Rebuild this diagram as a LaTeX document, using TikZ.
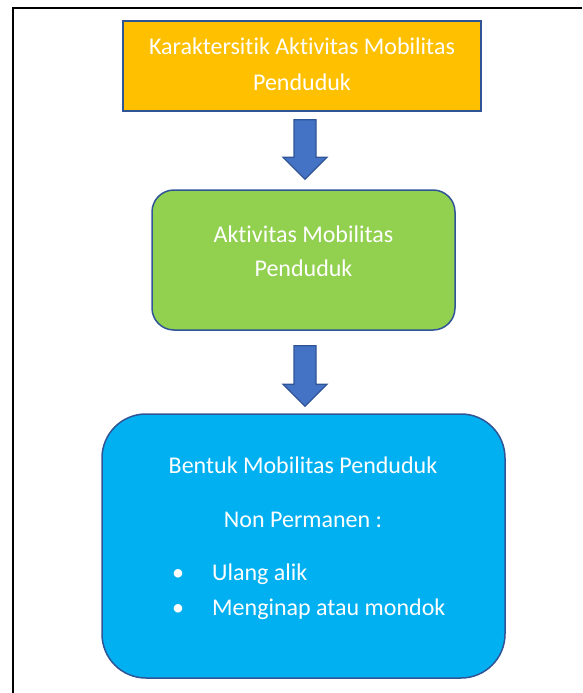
\documentclass[tikz,border=0pt]{standalone}
\usepackage{fontspec}
\setmainfont{Carlito}[Ligatures=NoCommon]
\usetikzlibrary{calc}
\definecolor{orangecolour}{HTML}{FFC000}
\definecolor{greencolour}{HTML}{92D050}
\definecolor{bluecolour}{HTML}{00B0F0}
\definecolor{arrowcolour}{HTML}{4472C4}
\definecolor{edgecolour}{HTML}{2F5597}

\begin{document}
\begin{tikzpicture}[x=1pt,y=-1pt,
  box/.style={draw=edgecolour,line width=1.5pt,inner sep=0pt},
  words/.style={text=white,font=\fontsize{24}{34}\selectfont,inner sep=0pt,anchor=base},
  blockarrow/.style={draw=edgecolour,fill=arrowcolour,line width=1.2pt,line join=miter}]
\useasboundingbox (0,0) rectangle (582,693);
% Frame
\draw[black,line width=1.5pt] (13,693) -- (13,8) -- (582,8);

% Karaktersitik Aktivitas Mobilitas Penduduk
\node[box,fill=orangecolour,minimum width=358,minimum height=90] (karakter) at (302,66) {};
\node[words] (karakter1) at (302,55) {Karaktersitik Aktivitas Mobilitas};
\node[words] (karakter2) at (302,90) {Penduduk};

% Aktivitas Mobilitas Penduduk
\node[box,fill=greencolour,rounded corners=22,minimum width=303,minimum height=140] (aktivitas) at (303.5,260) {};
\node[words] (aktivitas1) at (303.5,242) {Aktivitas Mobilitas};
\node[words] (aktivitas2) at (303.5,276) {Penduduk};

% Bentuk Mobilitas Penduduk
\node[box,fill=bluecolour,rounded corners=44,minimum width=403,minimum height=264] (bentuk) at (303.5,546) {};
\node[words] (bentuk1) at (303,473) {Bentuk Mobilitas Penduduk};
\node[words] (bentuk2) at (303,527) {Non Permanen :};
\node[words,anchor=base west] (ulang) at (172,580) {\makebox[40pt][l]{\textbullet}Ulang alik};
\node[words,anchor=base west] (menginap) at (172,615) {\makebox[40pt][l]{\textbullet}Menginap atau mondok};

% Karaktersitik to Aktivitas
\draw[blockarrow] ($(karakter.south)+(-8,8)$) -- ++(22,0) -- ++(0,37.5) -- ++(11,0)
  -- ($(aktivitas.north)+(1.5,-10)$) -- ++(-22,-22) -- ++(11,0) -- cycle;
% Aktivitas to Bentuk
\draw[blockarrow] ($(aktivitas.south)+(-9.5,15)$) -- ++(22,0) -- ++(0,38.5) -- ++(11,0)
  -- ($(bentuk.north)+(1.5,-7)$) -- ++(-22,-22) -- ++(11,0) -- cycle;
\end{tikzpicture}
\end{document}
